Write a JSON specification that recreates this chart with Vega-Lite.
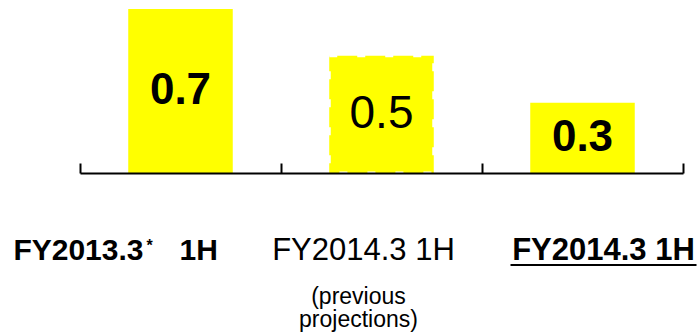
{
  "$schema": "https://vega.github.io/schema/vega-lite/v6.json",
  "width": 603,
  "height": 164,
  "autosize": {"type": "none"},
  "padding": {"left": 80, "top": 9, "right": 17, "bottom": 162},
  "background": "white",
  "config": {"view": {"stroke": null}, "font": "Liberation Sans"},
  "data": {
    "values": [
      {"period": "a", "label": "FY2013.3", "value": 0.7},
      {"period": "b", "label": "FY2014.3 1H", "note": "(previous projections)", "value": 0.5},
      {"period": "c", "label": "FY2014.3 1H", "value": 0.3}
    ]
  },
  "encoding": {
    "x": {
      "field": "period",
      "type": "nominal",
      "sort": null,
      "scale": {"paddingInner": 0, "paddingOuter": 0},
      "axis": {
        "title": null,
        "labels": false,
        "domainColor": "black",
        "domainWidth": 2,
        "tickColor": "black",
        "tickWidth": 2,
        "tickSize": -10,
        "tickBand": "extent",
        "zindex": 1
      }
    }
  },
  "layer": [
    {
      "mark": {"type": "bar", "color": "#FFFF00", "width": {"band": 0.52}},
      "encoding": {
        "y": {"field": "value", "type": "quantitative", "scale": {"domain": [0, 0.7]}, "axis": null}
      }
    },
    {
      "transform": [{"filter": "datum.period === 'b'"}],
      "mark": {"type": "bar", "width": {"band": 0.52}, "filled": false, "stroke": "white", "strokeWidth": 3, "strokeDash": [8, 20]},
      "encoding": {
        "y": {"field": "value", "type": "quantitative"}
      }
    },
    {
      "transform": [{"filter": "datum.period !== 'b'"}, {"calculate": "datum.value / 2", "as": "mid"}],
      "mark": {"type": "text", "fontSize": 44, "fontWeight": "bold", "baseline": "middle", "color": "black"},
      "encoding": {
        "y": {"field": "mid", "type": "quantitative"},
        "text": {"field": "value", "type": "quantitative", "format": ".1f"}
      }
    },
    {
      "transform": [{"filter": "datum.period === 'b'"}, {"calculate": "datum.value / 2", "as": "mid"}],
      "mark": {"type": "text", "fontSize": 46, "baseline": "middle", "color": "black"},
      "encoding": {
        "y": {"field": "mid", "type": "quantitative"},
        "text": {"field": "value", "type": "quantitative", "format": ".1f"}
      }
    },
    {
      "transform": [{"filter": "datum.period === 'a'"}],
      "mark": {"type": "text", "fontSize": 30, "fontWeight": "bold", "align": "right", "baseline": "alphabetic", "dx": -37, "dy": 87, "color": "black"},
      "encoding": {
        "y": {"datum": 0, "type": "quantitative"},
        "text": {"field": "label"}
      }
    },
    {
      "transform": [{"filter": "datum.period === 'a'"}],
      "mark": {"type": "text", "text": "*", "fontSize": 16, "fontWeight": "bold", "align": "left", "baseline": "alphabetic", "dx": -34, "dy": 78, "color": "black"},
      "encoding": {
        "y": {"datum": 0, "type": "quantitative"}
      }
    },
    {
      "transform": [{"filter": "datum.period === 'a'"}],
      "mark": {"type": "text", "text": "1H", "fontSize": 30, "fontWeight": "bold", "align": "left", "baseline": "alphabetic", "dx": -1, "dy": 87, "color": "black"},
      "encoding": {
        "y": {"datum": 0, "type": "quantitative"}
      }
    },
    {
      "transform": [{"filter": "datum.period === 'b'"}],
      "mark": {"type": "text", "fontSize": 31, "align": "center", "baseline": "alphabetic", "dx": -18, "dy": 87, "color": "black"},
      "encoding": {
        "y": {"datum": 0, "type": "quantitative"},
        "text": {"field": "label"}
      }
    },
    {
      "transform": [{"filter": "datum.period === 'b'"}, {"calculate": "split(datum.note, ' ')", "as": "lines"}],
      "mark": {"type": "text", "fontSize": 23, "lineHeight": 23, "align": "center", "baseline": "middle", "dx": -23, "dy": 124, "color": "black"},
      "encoding": {
        "y": {"datum": 0, "type": "quantitative"},
        "text": {"field": "lines"}
      }
    },
    {
      "transform": [{"filter": "datum.period === 'c'"}],
      "mark": {"type": "text", "fontSize": 31, "fontWeight": "bold", "align": "center", "baseline": "alphabetic", "dx": 21, "dy": 87, "color": "black"},
      "encoding": {
        "y": {"datum": 0, "type": "quantitative"},
        "text": {"field": "label"}
      }
    },
    {
      "transform": [{"filter": "datum.period === 'c'"}],
      "mark": {"type": "rule", "color": "black", "strokeWidth": 2, "xOffset": -72, "x2Offset": 114, "yOffset": 92, "y2Offset": 92},
      "encoding": {
        "x2": {"field": "period"},
        "y": {"datum": 0, "type": "quantitative"}
      }
    }
  ]
}
